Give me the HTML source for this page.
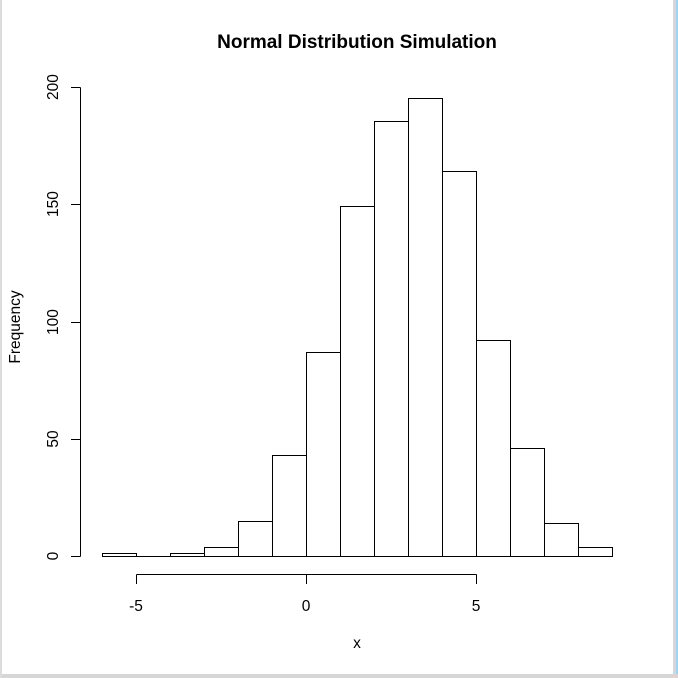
<!DOCTYPE html>
<html><head><style>
html,body{margin:0;padding:0;background:#fff;}
svg{display:block;font-family:"Liberation Sans",Arial,sans-serif;}
</style></head><body>
<svg width="678" height="678" viewBox="0 0 678 678" xmlns="http://www.w3.org/2000/svg">
<rect x="0" y="0" width="678" height="678" fill="#fff"/>
<rect x="676" y="0" width="2" height="678" fill="#9fd3f5"/>
<rect x="673" y="0" width="3" height="678" fill="#d6d6d6"/>
<rect x="0" y="674" width="678" height="4" fill="#d6d6d6"/>
<rect x="0" y="0" width="2" height="678" fill="#dcdcdc"/>
<text x="357" y="48" font-size="19" font-weight="bold" text-anchor="middle">Normal Distribution Simulation</text>
<g fill="none" stroke="#000" stroke-width="1">
<path d="M80.5 556.5V87.5M71 556.5H80.5M71 439.5H80.5M71 322.5H80.5M71 204.5H80.5M71 87.5H80.5"/>
<path d="M136.5 574.5H476.5M136.5 574.5V584M306.5 574.5V584M476.5 574.5V584"/>
<rect x="102.5" y="553.5" width="34" height="3"/>
<line x1="136.5" y1="556.5" x2="170.5" y2="556.5"/>
<rect x="170.5" y="553.5" width="34" height="3"/>
<rect x="204.5" y="547.5" width="34" height="9"/>
<rect x="238.5" y="521.5" width="34" height="35"/>
<rect x="272.5" y="455.5" width="34" height="101"/>
<rect x="306.5" y="352.5" width="34" height="204"/>
<rect x="340.5" y="206.5" width="34" height="350"/>
<rect x="374.5" y="121.5" width="34" height="435"/>
<rect x="408.5" y="98.5" width="34" height="458"/>
<rect x="442.5" y="171.5" width="34" height="385"/>
<rect x="476.5" y="340.5" width="34" height="216"/>
<rect x="510.5" y="448.5" width="34" height="108"/>
<rect x="544.5" y="523.5" width="34" height="33"/>
<rect x="578.5" y="547.5" width="34" height="9"/>
</g>
<g font-size="15.5" text-anchor="middle">
<text x="136" y="611">-5</text>
<text x="306" y="611">0</text>
<text x="476" y="611">5</text>
<text x="357" y="648">x</text>
<text transform="translate(58,556) rotate(-90)">0</text>
<text transform="translate(58,439) rotate(-90)">50</text>
<text transform="translate(58,322) rotate(-90)">100</text>
<text transform="translate(58,204) rotate(-90)">150</text>
<text transform="translate(58,87) rotate(-90)">200</text>
<text transform="translate(20,327) rotate(-90)">Frequency</text>
</g>
</svg>
</body></html>
